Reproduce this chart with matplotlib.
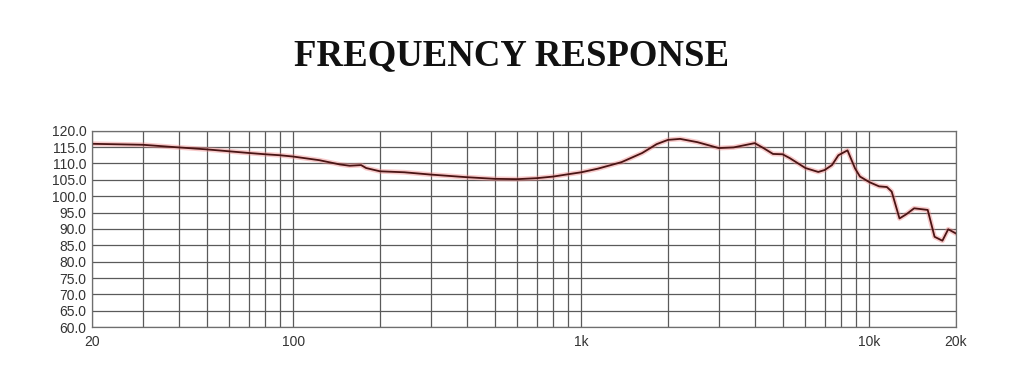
import matplotlib
matplotlib.use("Agg")
import matplotlib.pyplot as plt
from matplotlib.ticker import FixedLocator, FixedFormatter, NullFormatter

# frequency response (Hz, dB)
freq = [20, 30, 40, 50, 60, 70, 80, 90, 100, 123, 145, 157, 172, 179, 200,
        243, 300, 400, 500, 600, 700, 800, 900, 1000, 1141, 1380, 1628, 1827,
        2000, 2204, 2530, 3000, 3380, 4000, 4290, 4630, 5000, 5300, 6000,
        6650, 7000, 7420, 7810, 8400, 8920, 9280, 10000, 10810, 11510, 11960,
        12730, 13450, 14310, 15950, 16850, 17940, 18790, 20000]
spl = [116.0, 115.7, 114.9, 114.3, 113.7, 113.2, 112.8, 112.5, 112.1, 111.0,
       109.7, 109.3, 109.5, 108.6, 107.6, 107.3, 106.6, 105.8, 105.3, 105.2,
       105.5, 106.0, 106.7, 107.3, 108.4, 110.4, 113.2, 115.9, 117.2, 117.5,
       116.5, 114.7, 114.9, 116.2, 114.7, 112.9, 112.8, 111.6, 108.6, 107.4,
       108.0, 109.5, 112.5, 114.0, 108.5, 106.0, 104.3, 103.0, 102.8, 101.4,
       93.2, 94.5, 96.3, 95.8, 87.6, 86.4, 89.9, 88.6]

x_ticks = [20, 100, 1000, 10000, 20000]
x_labels = ["20", "100", "1k", "10k", "20k"]
y_ticks = [60 + 5 * i for i in range(13)]

fig = plt.figure(figsize=(10.24, 3.89), dpi=100)
ax = fig.add_axes([0.0898, 0.159, 0.8438, 0.505])

ax.plot(freq, spl, color="#f08a8a", lw=3.5, alpha=0.45, solid_capstyle="round")
ax.plot(freq, spl, color="#4a1414", lw=1.3)

ax.set_xscale("log")
ax.set_xlim(20, 20000)
ax.set_ylim(60, 120)
ax.xaxis.set_major_locator(FixedLocator(x_ticks))
ax.xaxis.set_major_formatter(FixedFormatter(x_labels))
ax.xaxis.set_minor_formatter(NullFormatter())
ax.set_yticks(y_ticks)
ax.set_yticklabels([f"{v:.1f}" for v in y_ticks])

ax.grid(True, which="both", axis="x", color="#5a5a5a", lw=0.9)
ax.grid(True, which="major", axis="y", color="#5a5a5a", lw=0.9)
ax.tick_params(which="both", length=0, labelsize=10, colors="#333333", pad=4)
ax.tick_params(axis="x", pad=6)
for s in ax.spines.values():
    s.set_color("#6e6e6e")
    s.set_linewidth(0.9)
for lab in ax.get_xticklabels() + ax.get_yticklabels():
    lab.set_family("Liberation Sans")

fig.text(0.5, 0.833, "FREQUENCY RESPONSE", ha="center", va="baseline",
         family="Liberation Serif", fontweight="bold", fontsize=26.5, color="#111111")

fig.savefig("out.png", dpi=100, facecolor="white")
